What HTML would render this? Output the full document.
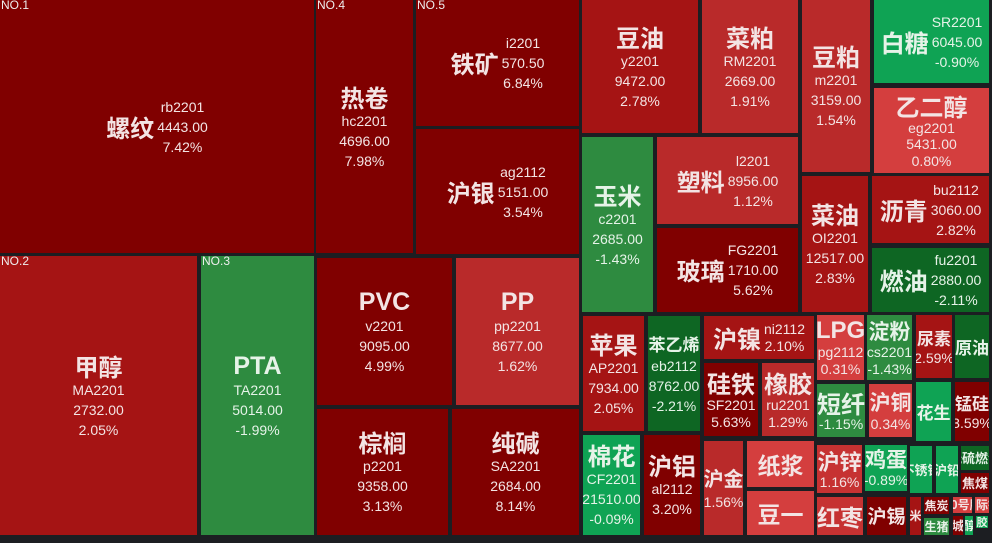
<!DOCTYPE html>
<html><head><meta charset="utf-8">
<style>
html,body{margin:0;padding:0}
body{background:#1c1e22;width:992px;height:543px;overflow:hidden;position:relative}
.t{position:absolute;overflow:hidden;display:flex;align-items:center;justify-content:center;color:#f3e4e4;font-family:"Liberation Sans","Noto Sans CJK SC",sans-serif;text-align:center;white-space:nowrap}
.c{flex-direction:column}
.g{color:#e6f3e8}
.n{font-family:"Noto Sans CJK SC","Liberation Sans",sans-serif;font-weight:bold;font-size:24px;line-height:28px}
.e{font-family:"Liberation Sans",sans-serif;font-weight:bold;font-size:25px;line-height:28px}
.l{font-size:14px;line-height:20px}
.s .l{line-height:17px}
.v{display:flex;flex-direction:column;align-items:center;margin-left:3px}
.no{position:absolute;left:1px;top:-1px;font-size:12px;line-height:13px;color:#eee;font-family:"Liberation Sans",sans-serif}
.m{font-family:"Noto Sans CJK SC",sans-serif;font-weight:bold;font-size:12px;line-height:14px}
</style></head><body>

<!-- left big block -->
<div class="t" style="left:0;top:0;width:314px;height:253px;background:#800000"><span class="no">NO.1</span><div class="n">螺纹</div><div class="v"><div class="l">rb2201</div><div class="l">4443.00</div><div class="l">7.42%</div></div></div>
<div class="t c" style="left:316px;top:0;width:97px;height:253px;background:#800000"><span class="no">NO.4</span><div class="n">热卷</div><div class="l">hc2201</div><div class="l">4696.00</div><div class="l">7.98%</div></div>
<div class="t" style="left:416px;top:0;width:163px;height:126px;background:#800000"><span class="no">NO.5</span><div class="n">铁矿</div><div class="v"><div class="l">i2201</div><div class="l">570.50</div><div class="l">6.84%</div></div></div>
<div class="t" style="left:416px;top:129px;width:163px;height:125px;background:#800000"><div class="n">沪银</div><div class="v"><div class="l">ag2112</div><div class="l">5151.00</div><div class="l">3.54%</div></div></div>

<div class="t c" style="left:0;top:256px;width:197px;height:279px;background:#a51414"><span class="no">NO.2</span><div class="n">甲醇</div><div class="l">MA2201</div><div class="l">2732.00</div><div class="l">2.05%</div></div>
<div class="t c g" style="left:201px;top:256px;width:113px;height:279px;background:#2e8b40"><span class="no">NO.3</span><div class="e">PTA</div><div class="l">TA2201</div><div class="l">5014.00</div><div class="l">-1.99%</div></div>

<div class="t c" style="left:317px;top:258px;width:135px;height:147px;background:#800000"><div class="e">PVC</div><div class="l">v2201</div><div class="l">9095.00</div><div class="l">4.99%</div></div>
<div class="t c" style="left:456px;top:258px;width:123px;height:147px;background:#b92a2a"><div class="e">PP</div><div class="l">pp2201</div><div class="l">8677.00</div><div class="l">1.62%</div></div>
<div class="t c" style="left:317px;top:409px;width:131px;height:126px;background:#800000"><div class="n">棕榈</div><div class="l">p2201</div><div class="l">9358.00</div><div class="l">3.13%</div></div>
<div class="t c" style="left:452px;top:409px;width:127px;height:126px;background:#800000"><div class="n">纯碱</div><div class="l">SA2201</div><div class="l">2684.00</div><div class="l">8.14%</div></div>

<!-- right section -->
<div class="t c" style="left:582px;top:0;width:116px;height:133px;background:#a51414"><div class="n">豆油</div><div class="l">y2201</div><div class="l">9472.00</div><div class="l">2.78%</div></div>
<div class="t c" style="left:702px;top:0;width:96px;height:133px;background:#b92a2a"><div class="n">菜粕</div><div class="l">RM2201</div><div class="l">2669.00</div><div class="l">1.91%</div></div>
<div class="t c" style="left:802px;top:0;width:68px;height:172px;background:#b92a2a"><div class="n">豆粕</div><div class="l">m2201</div><div class="l">3159.00</div><div class="l">1.54%</div></div>
<div class="t g" style="left:874px;top:0;width:115px;height:83px;background:#0fa354"><div class="n">白糖</div><div class="v"><div class="l">SR2201</div><div class="l">6045.00</div><div class="l">-0.90%</div></div></div>
<div class="t c s" style="left:874px;top:88px;width:115px;height:85px;background:#d43e3e"><div class="n">乙二醇</div><div class="l" style="line-height:16px">eg2201</div><div class="l" style="line-height:17px">5431.00</div><div class="l" style="line-height:17px">0.80%</div></div>

<div class="t c g" style="left:582px;top:137px;width:71px;height:175px;background:#2e8b40"><div class="n">玉米</div><div class="l">c2201</div><div class="l">2685.00</div><div class="l">-1.43%</div></div>
<div class="t" style="left:657px;top:137px;width:141px;height:87px;background:#b92a2a"><div class="n">塑料</div><div class="v"><div class="l">l2201</div><div class="l">8956.00</div><div class="l">1.12%</div></div></div>
<div class="t" style="left:657px;top:228px;width:141px;height:84px;background:#800000"><div class="n">玻璃</div><div class="v"><div class="l">FG2201</div><div class="l">1710.00</div><div class="l">5.62%</div></div></div>
<div class="t c" style="left:802px;top:176px;width:66px;height:136px;background:#a51414"><div class="n">菜油</div><div class="l">OI2201</div><div class="l">12517.00</div><div class="l">2.83%</div></div>
<div class="t" style="left:872px;top:176px;width:117px;height:67px;background:#a51414"><div class="n">沥青</div><div class="v"><div class="l">bu2112</div><div class="l">3060.00</div><div class="l">2.82%</div></div></div>
<div class="t g" style="left:872px;top:248px;width:117px;height:64px;background:#0e6623"><div class="n">燃油</div><div class="v"><div class="l">fu2201</div><div class="l">2880.00</div><div class="l">-2.11%</div></div></div>

<!-- lower right -->
<div class="t c" style="left:583px;top:316px;width:61px;height:115px;background:#a51414"><div class="n">苹果</div><div class="l">AP2201</div><div class="l">7934.00</div><div class="l">2.05%</div></div>
<div class="t c g" style="left:648px;top:316px;width:52px;height:115px;background:#0e6623"><div class="n" style="font-size:17px;line-height:24px">苯乙烯</div><div class="l">eb2112</div><div class="l">8762.00</div><div class="l">-2.21%</div></div>
<div class="t s" style="left:704px;top:316px;width:110px;height:43px;background:#a51414"><div class="n">沪镍</div><div class="v"><div class="l">ni2112</div><div class="l">2.10%</div></div></div>
<div class="t c s" style="left:704px;top:363px;width:54px;height:73px;background:#800000"><div class="n">硅铁</div><div class="l">SF2201</div><div class="l">5.63%</div></div>
<div class="t c s" style="left:762px;top:363px;width:52px;height:73px;background:#b92a2a"><div class="n">橡胶</div><div class="l">ru2201</div><div class="l">1.29%</div></div>
<div class="t c g" style="left:583px;top:435px;width:57px;height:100px;background:#0fa354"><div class="n">棉花</div><div class="l">CF2201</div><div class="l">21510.00</div><div class="l">-0.09%</div></div>
<div class="t c" style="left:644px;top:435px;width:56px;height:100px;background:#800000"><div class="n">沪铝</div><div class="l">al2112</div><div class="l">3.20%</div></div>
<div class="t c" style="left:704px;top:441px;width:39px;height:94px;background:#b92a2a"><div class="n" style="font-size:20px">沪金</div><div class="l">1.56%</div></div>
<div class="t c" style="left:747px;top:441px;width:67px;height:46px;background:#d43e3e"><div class="n" style="font-size:23px">纸浆</div></div>
<div class="t c" style="left:747px;top:491px;width:67px;height:44px;background:#d43e3e"><div class="n" style="font-size:23px">豆一</div></div>

<div class="t c s" style="left:817px;top:315px;width:47px;height:65px;background:#d43e3e"><div class="e" style="font-size:24px;line-height:26px">LPG</div><div class="l">pg2112</div><div class="l">0.31%</div></div>
<div class="t c s g" style="left:867px;top:315px;width:45px;height:65px;background:#2e8b40"><div class="n" style="font-size:21px;line-height:26px">淀粉</div><div class="l">cs2201</div><div class="l">-1.43%</div></div>
<div class="t c s" style="left:916px;top:315px;width:36px;height:63px;background:#a51414"><div class="n" style="font-size:17px;line-height:24px">尿素</div><div class="l">2.59%</div></div>
<div class="t c g" style="left:955px;top:315px;width:34px;height:63px;background:#0e6623"><div class="n" style="font-size:17px">原油</div></div>
<div class="t c s g" style="left:817px;top:384px;width:48px;height:53px;background:#2e8b40"><div class="n" style="line-height:27px">短纤</div><div class="l">-1.15%</div></div>
<div class="t c s" style="left:869px;top:384px;width:43px;height:53px;background:#d43e3e"><div class="n" style="font-size:21px;line-height:27px">沪铜</div><div class="l">0.34%</div></div>
<div class="t c g" style="left:916px;top:382px;width:35px;height:59px;background:#0fa354"><div class="n" style="font-size:17px">花生</div></div>
<div class="t c s" style="left:955px;top:382px;width:34px;height:59px;background:#800000"><div class="n" style="font-size:17px;line-height:24px">锰硅</div><div class="l">3.59%</div></div>

<div class="t c s" style="left:817px;top:445px;width:45px;height:48px;background:#c63232"><div class="n" style="font-size:22px;line-height:26px">沪锌</div><div class="l">1.16%</div></div>
<div class="t c s g" style="left:865px;top:445px;width:42px;height:46px;background:#0fa354"><div class="n" style="font-size:21px;line-height:25px">鸡蛋</div><div class="l">-0.89%</div></div>
<div class="t c g" style="left:910px;top:446px;width:22px;height:47px;background:#0fa354"><div class="m" style="font-size:13px">不锈钢</div></div>
<div class="t c g" style="left:936px;top:446px;width:22px;height:47px;background:#0fa354"><div class="m" style="font-size:13px">沪铅</div></div>
<div class="t c g" style="left:961px;top:446px;width:28px;height:24px;background:#0e6623"><div class="m" style="font-size:13px">低硫燃油</div></div>
<div class="t c" style="left:961px;top:473px;width:28px;height:20px;background:#800000"><div class="m" style="font-size:13px">焦煤</div></div>

<div class="t c" style="left:817px;top:497px;width:46px;height:38px;background:#c63232"><div class="n" style="font-size:23px">红枣</div></div>
<div class="t c" style="left:867px;top:497px;width:39px;height:38px;background:#800000"><div class="n" style="font-size:19px">沪锡</div></div>
<div class="t c" style="left:910px;top:497px;width:11px;height:38px;background:#a51414"><div class="m">玉米淀</div></div>
<div class="t c" style="left:924px;top:497px;width:25px;height:17px;background:#800000"><div class="m">焦炭</div></div>
<div class="t c g" style="left:924px;top:518px;width:25px;height:17px;background:#2e8b40"><div class="m">生猪</div></div>
<div class="t c" style="left:953px;top:497px;width:19px;height:16px;background:#d43e3e"><div class="m">20号胶</div></div>
<div class="t c" style="left:975px;top:497px;width:14px;height:16px;background:#d43e3e"><div class="m">国际铜</div></div>
<div class="t c" style="left:953px;top:516px;width:10px;height:19px;background:#800000"><div class="m">城</div></div>
<div class="t c g" style="left:965px;top:516px;width:8px;height:19px;background:#0fa354"><div class="m">醇</div></div>
<div class="t c g" style="left:976px;top:516px;width:12px;height:12px;background:#0fa354"><div class="m" style="font-size:11px">胶</div></div>

</body></html>
